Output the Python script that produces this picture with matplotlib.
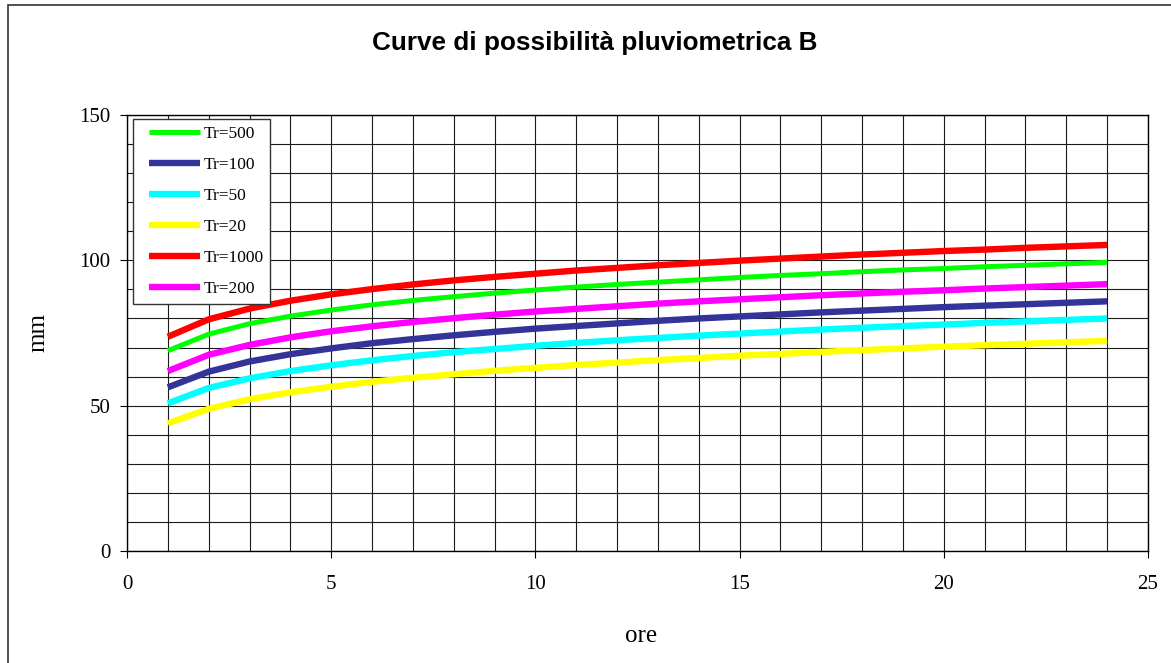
import matplotlib.pyplot as plt
from matplotlib.patches import Rectangle
from matplotlib.legend_handler import HandlerLine2D
from matplotlib.lines import Line2D

# durata (ore) e altezze di pioggia (mm) per ciascun tempo di ritorno
ore = [1, 2, 3, 4, 5, 6, 7, 8, 9, 10, 11, 12, 13, 14, 15, 16, 17, 18, 19, 20, 21, 22, 23, 24]

tr500 = [68.9, 74.6, 78.2, 80.8, 82.9, 84.7, 86.2, 87.5, 88.7, 89.8, 90.8, 91.7,
         92.5, 93.3, 94.1, 94.8, 95.4, 96.1, 96.7, 97.2, 97.8, 98.3, 98.8, 99.3]
tr100 = [56.3, 61.7, 65.2, 67.7, 69.7, 71.5, 72.9, 74.2, 75.4, 76.5, 77.4, 78.3,
         79.2, 80.0, 80.7, 81.4, 82.1, 82.7, 83.3, 83.9, 84.4, 84.9, 85.4, 85.9]
tr50 = [50.8, 56.1, 59.4, 61.9, 63.9, 65.6, 67.1, 68.4, 69.5, 70.6, 71.6, 72.5,
        73.3, 74.1, 74.8, 75.5, 76.2, 76.8, 77.4, 77.9, 78.5, 79.0, 79.5, 80.0]
tr20 = [43.9, 48.9, 52.2, 54.6, 56.5, 58.2, 59.6, 60.8, 62.0, 63.0, 64.0, 64.8,
        65.7, 66.4, 67.2, 67.8, 68.5, 69.1, 69.7, 70.3, 70.8, 71.3, 71.8, 72.3]
tr1000 = [73.7, 79.7, 83.4, 86.1, 88.3, 90.1, 91.7, 93.1, 94.3, 95.4, 96.5, 97.4,
          98.3, 99.1, 99.9, 100.6, 101.3, 102.0, 102.6, 103.2, 103.7, 104.3, 104.8, 105.3]
tr200 = [61.9, 67.5, 70.9, 73.5, 75.6, 77.3, 78.8, 80.1, 81.3, 82.4, 83.3, 84.2,
         85.1, 85.9, 86.6, 87.3, 88.0, 88.6, 89.2, 89.7, 90.3, 90.8, 91.3, 91.8]

serie = [("Tr=500", tr500, "#00FF00", 3.6),
         ("Tr=100", tr100, "#333399", 4.6),
         ("Tr=50", tr50, "#00FFFF", 4.6),
         ("Tr=20", tr20, "#FFFF00", 4.6),
         ("Tr=1000", tr1000, "#FF0000", 4.6),
         ("Tr=200", tr200, "#FF00FF", 4.6)]

serif = "Liberation Serif"

fig = plt.figure(figsize=(11.71, 6.63), dpi=100)
ax = fig.add_axes([127 / 1171, 1 - 551 / 663, 1021 / 1171, 436 / 663])

for nome, valori, colore, lw in serie:
    ax.plot(ore, valori, color=colore, lw=lw, label=nome, solid_capstyle="butt")

ax.set_xlim(0, 25)
ax.set_ylim(0, 150)
ax.set_xticks([0, 5, 10, 15, 20, 25])
ax.set_yticks([0, 50, 100, 150])
ax.set_xticks(range(26), minor=True)
ax.set_yticks(range(0, 151, 10), minor=True)
ax.grid(True, which="both", color="#1a1a1a", lw=0.8)
ax.set_axisbelow(True)
ax.tick_params(which="major", direction="out", length=5, width=0.8)
ax.tick_params(which="minor", length=0)
ax.tick_params(axis="x", pad=12)
ax.tick_params(axis="y", pad=7)
for lab in ax.get_xticklabels() + ax.get_yticklabels():
    lab.set_fontfamily(serif)
    lab.set_fontsize(15)
for sp in ax.spines.values():
    sp.set_color("black")
    sp.set_linewidth(1)

ax.set_xlabel("ore", fontfamily=serif, fontsize=18)
ax.set_ylabel("mm", fontfamily=serif, fontsize=18)
ax.xaxis.set_label_coords((641 - 127) / 1021, (551 - 636) / 436)
ax.xaxis.label.set_va("center")
ax.yaxis.set_label_coords((38 - 127) / 1021, (551 - 333) / 436)
ax.yaxis.label.set_va("center")

fig.text(595 / 1171, 1 - 43 / 663, "Curve di possibilità pluviometrica B",
         fontfamily="Liberation Sans", fontweight="bold", fontsize=18.8,
         ha="center", va="center")

leg = ax.legend(loc="upper left", bbox_to_anchor=(133 / 1171, 1 - 119 / 663),
                bbox_transform=fig.transFigure, borderaxespad=0,
                prop={"family": serif, "size": 12.5}, fancybox=False,
                edgecolor="#333333", framealpha=1, handlelength=3.45,
                handletextpad=0.2, labelspacing=0.85, borderpad=0.4,
                handler_map={Line2D: HandlerLine2D(xpad=0.5)})
leg.get_frame().set_linewidth(1)

# cornice esterna del grafico
fig.patches.append(Rectangle((8 / 1171, -0.1), 1.2, 1 - 5 / 663 + 0.1,
                             transform=fig.transFigure, fill=False,
                             edgecolor="#333333", lw=1.2))

fig.savefig("out.png", dpi=100)
